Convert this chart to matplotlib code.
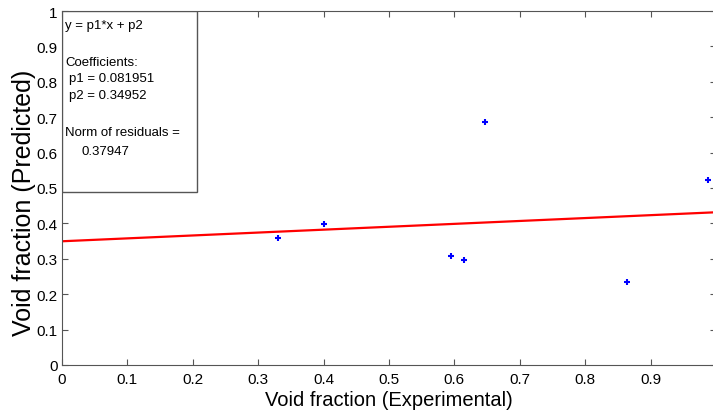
import matplotlib.pyplot as plt
import numpy as np

plt.rcParams['font.family'] = ['Liberation Sans', 'DejaVu Sans']

# measured points
x_exp = np.array([0.330, 0.401, 0.595, 0.615, 0.647, 0.864, 0.988])
y_pred = np.array([0.359, 0.398, 0.308, 0.297, 0.686, 0.234, 0.523])

# linear fit coefficients
p1 = 0.081951
p2 = 0.34952
norm_res = 0.37947

fig = plt.figure(figsize=(7.13, 4.14), dpi=100)
ax = fig.add_axes([62 / 713, 48 / 414, 654 / 713, 354 / 414])

xf = np.linspace(0, 1, 50)
ax.plot(xf, p1 * xf + p2, color='red', lw=1.6)
ax.plot(x_exp, y_pred, '+', color='blue', ms=5, mew=1.5)

ax.set_xlim(0, 1)
ax.set_ylim(0, 1)
ax.set_xticks(np.arange(0, 1.0, 0.1))
ax.set_yticks(np.arange(0, 1.01, 0.1))
ax.set_xticklabels(['0'] + ['%.1f' % v for v in np.arange(0.1, 1.0, 0.1)])
ax.set_yticklabels(['0'] + ['%.1f' % v for v in np.arange(0.1, 1.0, 0.1)] + ['1'])
ax.tick_params(direction='in', top=True, right=True, length=4, color='#555555',
               labelsize=11)
ax.tick_params(axis='x', pad=5)
ax.tick_params(axis='y', pad=3)
for s in ax.spines.values():
    s.set_color('#555555')

ax.set_xlabel('Void fraction (Experimental)', fontsize=14.5, labelpad=3)
ax.set_ylabel('Void fraction (Predicted)', fontsize=18)
ax.yaxis.set_label_coords(-0.04, 0.46)

# fit info box
box = plt.Rectangle((0, 0.489), 0.2064, 0.511, transform=ax.transAxes,
                    facecolor='white', edgecolor='#555555', lw=1, zorder=3)
ax.add_patch(box)
lines = [(3, 26, 'y = p1*x + p2'), (3, 63, 'Coefficients:'),
         (7, 79, 'p1 = 0.081951'), (7, 96, 'p2 = 0.34952'),
         (3, 133, 'Norm of residuals ='), (19, 152, '0.37947')]
for dx, py, t in lines:
    ax.text(dx / 654, 1 - (py - 12) / 354, t, transform=ax.transAxes,
            fontsize=9.5, va='center', ha='left', zorder=4)

fig.savefig('out.png', dpi=100)
